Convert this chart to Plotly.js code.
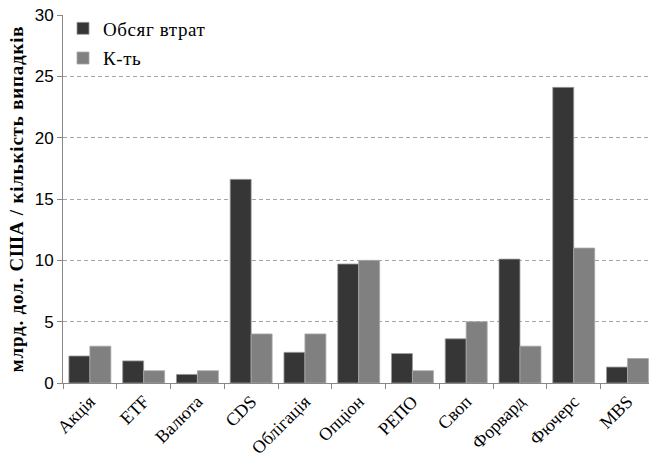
<!DOCTYPE html>
<html>
<head>
<meta charset="utf-8">
<script src="https://cdn.plot.ly/plotly-3.0.1.min.js"></script>
<style>
  html, body { margin: 0; padding: 0; background: #fff; }
  #chart { width: 649px; height: 464px; }
  #chart .legendtext { letter-spacing: 0.6px; }
  #chart .g-ytitle text { letter-spacing: 0.8px; }
</style>
</head>
<body>
<div id="chart"></div>
<script>
// Instrument types
const categories = ['Акція', 'ETF', 'Валюта', 'CDS', 'Облігація', 'Опціон', 'РЕПО', 'Своп', 'Форвард', 'Фючерс', 'MBS'];
// Loss volume, bn USD
const lossVolume = [2.2, 1.8, 0.7, 16.6, 2.5, 9.7, 2.4, 3.6, 10.1, 24.1, 1.3];
// Number of cases
const caseCount = [3, 1, 1, 4, 4, 10, 1, 5, 3, 11, 2];
const yTicks = [0, 5, 10, 15, 20, 25, 30];

const serif = 'Liberation Serif, DejaVu Serif, serif';
const sans = 'Liberation Sans, Arial, sans-serif';

const traces = [
  {
    type: 'bar', name: 'Обсяг втрат', x: categories, y: lossVolume,
    legendgroup: 'a',
    marker: { color: '#363636', line: { color: '#9a9a9a', width: 0.8 } }
  },
  {
    type: 'bar', name: 'К-ть', x: categories, y: caseCount,
    legendgroup: 'b',
    marker: { color: '#808080', line: { color: '#a8a8a8', width: 0.8 } }
  }
];

const layout = {
  width: 649, height: 464,
  margin: { l: 63, r: 0, t: 15, b: 81 },
  paper_bgcolor: '#fff', plot_bgcolor: '#fff',
  barmode: 'group', bargap: 0.22, bargroupgap: 0,
  showlegend: true,
  legend: {
    x: 0.0, y: 1.015, xanchor: 'left', yanchor: 'top',
    font: { family: serif, size: 19, color: '#000' },
    bgcolor: 'rgba(0,0,0,0)', tracegroupgap: 2,
    itemwidth: 30, traceorder: 'grouped'
  },
  font: { family: serif, color: '#000' },
  xaxis: {
    type: 'category', range: [-0.5, 10.4],
    tickangle: -45, tickfont: { family: serif, size: 18, color: '#000' },
    showline: true, linecolor: '#888', linewidth: 1,
    ticks: 'outside', ticklen: 5, tickcolor: '#888', tickson: 'boundaries',
    showgrid: false, zeroline: false, automargin: false, fixedrange: true
  },
  yaxis: {
    range: [0, 30], tickvals: yTicks,
    tickfont: { family: sans, size: 17, color: '#000' },
    showline: true, linecolor: '#888', linewidth: 1,
    ticks: 'outside', ticklen: 5, tickcolor: '#888',
    showgrid: true, gridcolor: '#a6a6a6', griddash: '4px,3px', gridwidth: 1,
    zeroline: false, automargin: false, fixedrange: true,
    title: { text: '<b>млрд. дол. США / кількість випадків</b>', font: { family: serif, size: 19, color: '#000' }, standoff: 6 }
  }
};

Plotly.newPlot('chart', traces, layout, { displayModeBar: false, staticPlot: true });
</script>
</body>
</html>
